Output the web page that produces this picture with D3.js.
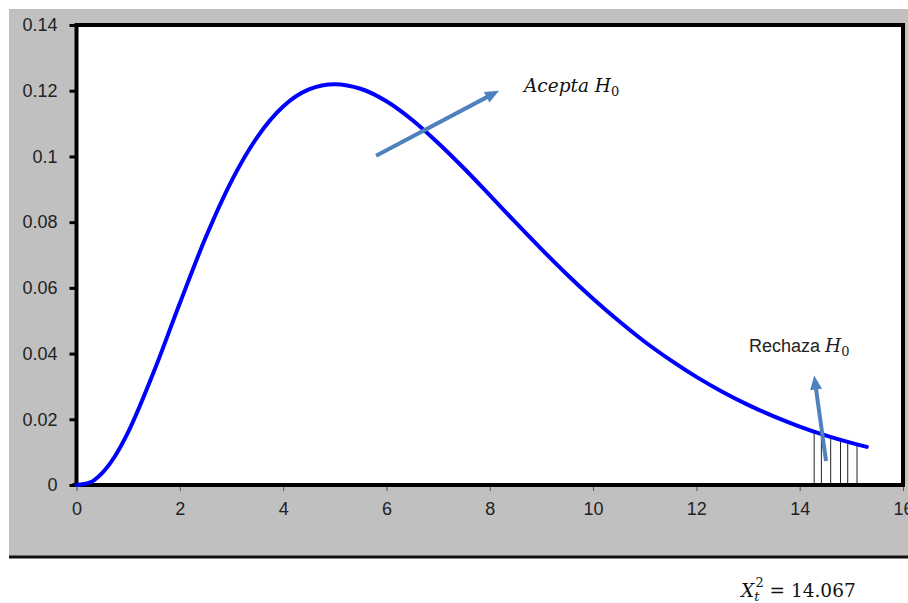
<!DOCTYPE html>
<html>
<head>
<meta charset="utf-8">
<script src="https://cdn.jsdelivr.net/npm/d3@7"></script>
<style>
  html, body { margin: 0; padding: 0; background: #ffffff; }
  svg { display: block; }
</style>
</head>
<body>
<svg id="chart" width="908" height="603"></svg>
<script>
// ---- data ----
const curveX = [0, 0.25, 0.5, 0.75, 1, 1.5, 2, 2.5, 3, 3.5, 4, 4.5, 5, 5.5, 6, 6.5, 7, 7.5, 8,
                8.5, 9, 9.5, 10, 10.5, 11, 11.5, 12, 12.5, 13, 13.5, 14, 14.5, 15, 15.3];
const curveY = [0, 0.0007, 0.0037, 0.0089, 0.0161, 0.0346, 0.0553, 0.0753, 0.0925, 0.1059, 0.1152,
                0.1204, 0.1220, 0.1206, 0.1168, 0.1111, 0.1041, 0.0964, 0.0882, 0.0799, 0.0718,
                0.0640, 0.0567, 0.0499, 0.0436, 0.0380, 0.0329, 0.0284, 0.0244, 0.0209, 0.0178,
                0.0151, 0.0128, 0.0116];
// rejection region hatch lines
const hatchX = [14.28, 14.42, 14.60, 14.79, 14.93, 15.11];
const hatchY = [0.0162, 0.0155, 0.0146, 0.0138, 0.0132, 0.0124];
const xTicks = [0, 2, 4, 6, 8, 10, 12, 14, 16];
const yTicks = [0, 0.02, 0.04, 0.06, 0.08, 0.1, 0.12, 0.14];
const yTickLabels = ["0", "0.02", "0.04", "0.06", "0.08", "0.1", "0.12", "0.14"];
// annotation arrows [x0, y0, x1, y1] in data units
const arrowAccept = [5.80, 0.1002, 8.18, 0.1200];
const arrowReject = [14.51, 0.0073, 14.28, 0.0333];

const svg = d3.select("#chart");

// grey frame
svg.append("rect").attr("x", 9).attr("y", 9).attr("width", 899).attr("height", 548)
  .attr("fill", "#c0c0c0");
svg.append("line").attr("x1", 9).attr("x2", 908).attr("y1", 557).attr("y2", 557)
  .attr("stroke", "#111").attr("stroke-width", 3);

const x = d3.scaleLinear().domain([0, 16]).range([76.5, 903]);
const y = d3.scaleLinear().domain([0, 0.14]).range([485, 25]);

// plot area
svg.append("rect")
  .attr("x", x(0)).attr("y", y(0.14))
  .attr("width", x(16) - x(0)).attr("height", y(0) - y(0.14))
  .attr("fill", "#ffffff").attr("stroke", "#000").attr("stroke-width", 4);

// y axis
const yAxis = svg.append("g").attr("transform", `translate(${x(0)},0)`)
  .call(d3.axisLeft(y).tickValues(yTicks)
    .tickFormat((d, i) => yTickLabels[i]).tickSizeInner(7).tickSizeOuter(0).tickPadding(12));
yAxis.select(".domain").remove();
yAxis.selectAll(".tick line").attr("stroke", "#000").attr("stroke-width", 3);
yAxis.selectAll("text").attr("font-family", "Liberation Sans, Arial, sans-serif")
  .attr("font-size", 18).attr("fill", "#222");

// x axis
const xAxis = svg.append("g").attr("transform", `translate(0,${y(0)})`)
  .call(d3.axisBottom(x).tickValues(xTicks).tickFormat(d3.format("d"))
    .tickSizeInner(6).tickSizeOuter(0).tickPadding(11));
xAxis.select(".domain").remove();
xAxis.selectAll(".tick line").attr("stroke", "#555").attr("stroke-width", 1);
xAxis.selectAll("text").attr("font-family", "Liberation Sans, Arial, sans-serif")
  .attr("font-size", 18).attr("fill", "#222");

// redraw bottom border above ticks
svg.append("line").attr("x1", x(0) - 4).attr("x2", x(16) + 2).attr("y1", y(0)).attr("y2", y(0))
  .attr("stroke", "#000").attr("stroke-width", 4);

// hatch lines
svg.append("g").selectAll("line").data(hatchX).join("line")
  .attr("x1", d => x(d)).attr("x2", d => x(d))
  .attr("y1", (d, i) => y(hatchY[i])).attr("y2", y(0) - 2)
  .attr("stroke", "#222").attr("stroke-width", 1);

// curve
const pts = curveX.map((d, i) => [d, curveY[i]]);
svg.append("path").datum(pts)
  .attr("fill", "none").attr("stroke", "#0000ff").attr("stroke-width", 4)
  .attr("stroke-linecap", "round")
  .attr("d", d3.line().x(d => x(d[0])).y(d => y(d[1])).curve(d3.curveMonotoneX));

// arrows
function arrow(a) {
  const p0 = [x(a[0]), y(a[1])], p1 = [x(a[2]), y(a[3])];
  const dx = p1[0] - p0[0], dy = p1[1] - p0[1];
  const L = Math.hypot(dx, dy), ux = dx / L, uy = dy / L, nx = -uy, ny = ux;
  const col = "#4f81bd";
  svg.append("line").attr("x1", p0[0]).attr("y1", p0[1])
    .attr("x2", p1[0] - 10 * ux).attr("y2", p1[1] - 10 * uy)
    .attr("stroke", col).attr("stroke-width", 4);
  const hl = 14, hw = 6;
  const b = [p1[0] - hl * ux, p1[1] - hl * uy];
  svg.append("polygon").attr("points",
    [[p1[0], p1[1]], [b[0] + hw * nx, b[1] + hw * ny], [b[0] - hw * nx, b[1] - hw * ny]]
      .map(p => p.join(",")).join(" "))
    .attr("fill", col);
}
arrow(arrowAccept);
arrow(arrowReject);

// labels
const serif = "DejaVu Serif, Liberation Serif, serif";
const t1 = svg.append("text").attr("x", 524).attr("y", 92)
  .attr("font-family", serif).attr("font-size", 18.5).attr("fill", "#111");
t1.append("tspan").attr("font-style", "italic").text("Acepta H");
t1.append("tspan").attr("font-size", 13).attr("dy", 4).text("0");

const t2 = svg.append("text").attr("x", 749).attr("y", 352).attr("fill", "#222");
t2.append("tspan").attr("font-family", "Liberation Sans, Arial, sans-serif").attr("font-size", 18)
  .text("Rechaza ");
t2.append("tspan").attr("font-family", serif).attr("font-size", 18.5).attr("font-style", "italic").text("H");
t2.append("tspan").attr("font-family", serif).attr("font-size", 13).attr("dy", 4).text("0");

const t3 = svg.append("text").attr("x", 741).attr("y", 597)
  .attr("font-family", serif).attr("font-size", 18.5).attr("fill", "#111");
t3.append("tspan").attr("font-style", "italic").text("X");
t3.append("tspan").attr("font-style", "italic").attr("font-size", 13).attr("dy", 4).text("t");
t3.append("tspan").attr("font-size", 13).attr("dx", -4).attr("dy", -14).text("2");
t3.append("tspan").attr("dy", 10).text(" = 14.067");
</script>
</body>
</html>
